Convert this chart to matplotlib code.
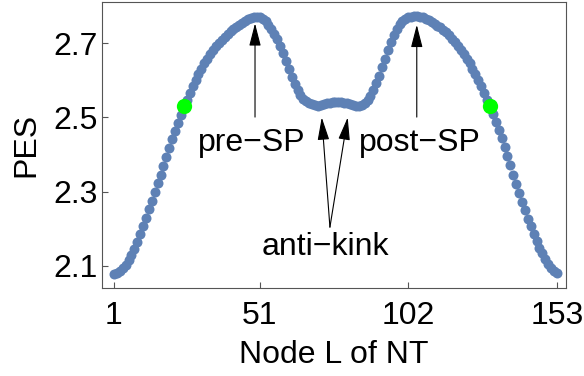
import matplotlib
matplotlib.use("Agg")
import matplotlib.pyplot as plt

plt.rcParams['font.family'] = ['Liberation Sans', 'DejaVu Sans']

# PES value for node L = 1..153
pes = [
    2.078, 2.081, 2.086, 2.093, 2.102, 2.114, 2.128, 2.145, 2.164, 2.185,
    2.207, 2.229, 2.252, 2.275, 2.298, 2.322, 2.346, 2.370, 2.394, 2.418,
    2.441, 2.463, 2.485, 2.506, 2.528, 2.547, 2.566, 2.584, 2.601, 2.617,
    2.632, 2.646, 2.659, 2.671, 2.682, 2.692, 2.701, 2.710, 2.718, 2.725,
    2.732, 2.738, 2.744, 2.750, 2.756, 2.761, 2.765, 2.768, 2.770, 2.771,
    2.770, 2.766, 2.759, 2.750, 2.739, 2.726, 2.711, 2.694, 2.674, 2.652,
    2.630, 2.609, 2.590, 2.574, 2.561, 2.551, 2.544, 2.539, 2.535, 2.533,
    2.532, 2.533, 2.535, 2.538, 2.540, 2.542, 2.543, 2.543, 2.542, 2.540,
    2.538, 2.535, 2.533, 2.532, 2.532, 2.534, 2.539, 2.547, 2.558, 2.573,
    2.592, 2.613, 2.636, 2.659, 2.682, 2.703, 2.722, 2.738, 2.751, 2.760,
    2.766, 2.770, 2.772, 2.773, 2.773, 2.772, 2.770, 2.767, 2.763, 2.758,
    2.753, 2.748, 2.743, 2.737, 2.730, 2.722, 2.713, 2.703, 2.693, 2.682,
    2.671, 2.659, 2.646, 2.632, 2.617, 2.601, 2.584, 2.566, 2.548, 2.530,
    2.510, 2.489, 2.467, 2.444, 2.420, 2.396, 2.371, 2.346, 2.321, 2.296,
    2.272, 2.249, 2.227, 2.206, 2.186, 2.167, 2.149, 2.133, 2.118, 2.105,
    2.094, 2.085, 2.079,
]
nodes = list(range(1, len(pes) + 1))

# highlighted images (green)
green_nodes = [25, 130]
green_pes = [2.530, 2.530]

x_ticks = [1, 51, 102, 153]
y_ticks = [2.1, 2.3, 2.5, 2.7]
y_tick_labels = ["2.1", "2.3", "2.5", "2.7"]

# annotations: (label, text position, arrow tail, arrow tips)
ann_pre = ("pre\u2212SP", (48.4, 2.430), (49.4, 2.501), [(49.4, 2.754)])
ann_post = ("post\u2212SP", (106.0, 2.432), (104.9, 2.501), [(104.9, 2.750)])
ann_kink = ("anti\u2212kink", (73.6, 2.150), (75.1, 2.204), [(72.3, 2.500), (81.2, 2.500)])

W, H = 584, 376
fig = plt.figure(figsize=(W / 100, H / 100), dpi=100)
ax = fig.add_axes([102 / W, 1 - 288 / H, 464 / W, 286 / H])

blue = '#5E81B5'
ax.plot(nodes, pes, 'o', color=blue, markersize=7.2, markeredgewidth=0, zorder=2)
ax.plot(green_nodes, green_pes, 'o', color='#00FF00', markersize=11,
        markeredgewidth=0, zorder=3)

ax.set_xlim(-3.1, 156.1)
ax.set_ylim(2.0397, 2.8116)
ax.set_xticks(x_ticks)
ax.set_xticklabels([str(t) for t in x_ticks])
ax.set_yticks(y_ticks)
ax.set_yticklabels(y_tick_labels)

frame = '#555555'
for s in ax.spines.values():
    s.set_color(frame)
    s.set_linewidth(0.8)
ax.tick_params(axis='both', direction='in', length=4, width=0.8, color=frame,
               labelsize=23, labelcolor='black')
ax.tick_params(axis='x', pad=9)
ax.tick_params(axis='y', pad=3)
ax.set_xlabel("Node L of NT", fontsize=23, labelpad=7)
ax.set_ylabel("PES", fontsize=23, labelpad=9)

for label, tpos, tail, tips in (ann_pre, ann_post, ann_kink):
    ax.text(tpos[0], tpos[1], label, fontsize=23, ha='center', va='center', zorder=4)
    for tip in tips:
        ax.annotate("", xy=tip, xytext=tail,
                    arrowprops=dict(arrowstyle='-|>,head_length=0.7,head_width=0.18',
                                    mutation_scale=20, color='black', lw=0.8,
                                    shrinkA=0, shrinkB=0), zorder=4)

fig.savefig("out.png", dpi=100)
